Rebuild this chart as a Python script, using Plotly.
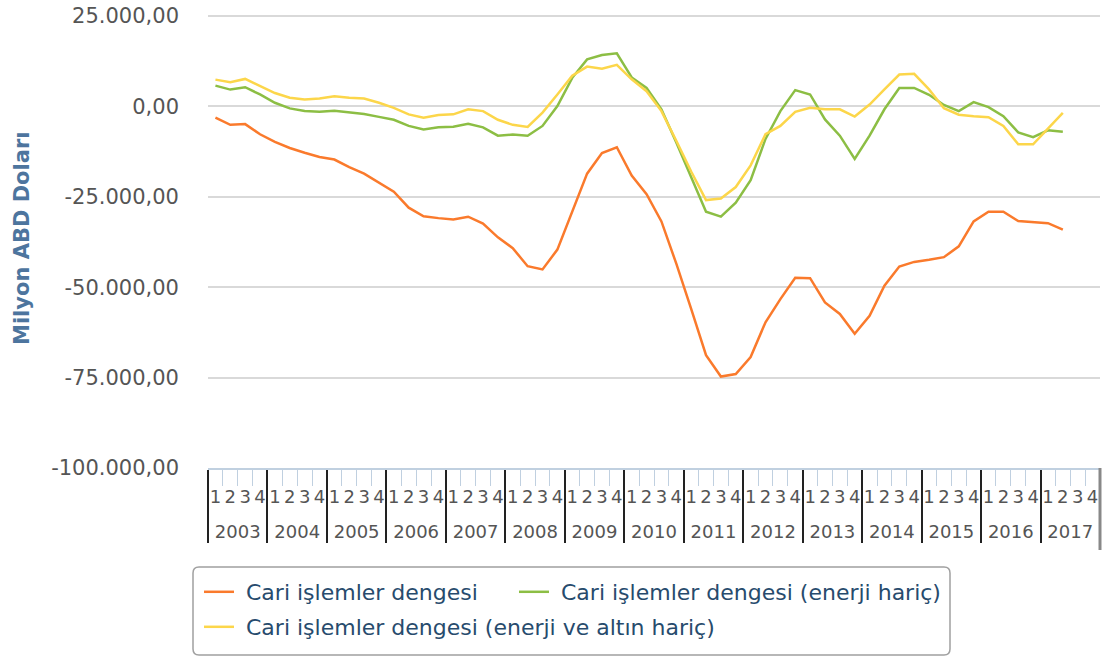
import plotly.graph_objects as go

years = ["2003", "2004", "2005", "2006", "2007", "2008", "2009", "2010",
         "2011", "2012", "2013", "2014", "2015", "2016", "2017"]
quarters = ["1", "2", "3", "4"]

y_tick_vals = [-100000, -75000, -50000, -25000, 0, 25000]
y_tick_text = ["-100.000,00", "-75.000,00", "-50.000,00", "-25.000,00",
               "0,00", "25.000,00"]

cari = [-3100, -5100, -4900, -7700, -9800, -11500, -12800, -14000,
        -14700, -16800, -18600, -21200, -23600, -28000, -30400, -30900,
        -31300, -30500, -32400, -36200, -39200, -44200, -45100, -39600,
        -29100, -18600, -12900, -11300, -19100, -24300, -31800, -43500,
        -56000, -68800, -74700, -74000, -69300, -59700, -53300, -47400,
        -47500, -54200, -57400, -62900, -57900, -49600, -44300, -43000,
        -42400, -41700, -38700, -31800, -29100, -29100, -31700, -32100,
        -32300, -34100]

enerji_haric = [5750, 4650, 5300, 3300, 1000, -550, -1300, -1500,
                -1200, -1700, -2100, -2900, -3700, -5400, -6400, -5800,
                -5600, -4800, -5800, -8100, -7800, -8100, -5400, 100,
                7900, 13000, 14200, 14700, 8000, 5100, -800, -10000,
                -19500, -29100, -30500, -26600, -20400, -9000, -1300, 4500,
                3300, -3600, -8100, -14500, -8100, -800, 5100, 5100,
                3200, 400, -1300, 1200, -200, -2700, -7200, -8500,
                -6600, -7000]

enerji_altin_haric = [7400, 6700, 7600, 5700, 3700, 2400, 1900, 2200,
                      2800, 2400, 2200, 1000, -400, -2200, -3100, -2400,
                      -2200, -800, -1300, -3700, -5100, -5700, -1700, 3300,
                      8500, 11000, 10400, 11500, 7500, 4200, -1300, -9500,
                      -18000, -25900, -25500, -22300, -16300, -7700, -5400, -1500,
                      -400, -800, -800, -2800, 500, 4700, 8800, 9000,
                      4700, -500, -2300, -2700, -3000, -5400, -10500, -10500,
                      -6000, -1800]

names = ["Cari işlemler dengesi",
         "Cari işlemler dengesi (enerji hariç)",
         "Cari işlemler dengesi (enerji ve altın hariç)"]
colors = ["#FA7A2C", "#8CBE44", "#FCD64A"]
legend_ids = ["legend", "legend2", "legend3"]
series = [cari, enerji_haric, enerji_altin_haric]

# quarter labels get an empty second line so the year row sits lower
x_year = [y for y in years for q in quarters]
x_q = [q + "<br>\u00a0" for y in years for q in quarters]
n = len(x_year)

FONT = "DejaVu Sans"
W, H = 1105, 657
PLOT_TOP, PLOT_BOTTOM, PLOT_LEFT, PLOT_RIGHT = 14, 468, 208, 1100
L, T = PLOT_LEFT, PLOT_TOP
R = W - PLOT_RIGHT
B = H - PLOT_BOTTOM
PW, PH = W - L - R, H - T - B
# top gridline (25.000) sits at y=16, just inside the plot top
Y_MIN = -100000
Y_MAX = Y_MIN + 125000 * PH / (PLOT_BOTTOM - 16)


def px(x_page):
    return (x_page - L) / PW


def py(y_page):
    return (H - B - y_page) / PH


fig = go.Figure()
for name, col, vals, lg in zip(names, colors, series, legend_ids):
    yv = list(vals) + [None] * (n - len(vals))
    fig.add_trace(go.Scatter(
        x=[x_year, x_q], y=yv, mode="lines", name="\u00a0" + name,
        line=dict(color=col, width=2.5), connectgaps=False, legend=lg,
    ))

legend_font = dict(size=22, color="#274b6d", family=FONT)


def leg(xp, yp):
    return dict(orientation="h", x=px(xp), xanchor="left", y=py(yp),
                yanchor="middle", borderwidth=0, bgcolor="rgba(0,0,0,0)",
                font=legend_font)


fig.update_layout(
    width=W, height=H,
    margin=dict(l=L, r=R, t=T, b=B, autoexpand=False),
    plot_bgcolor="white", paper_bgcolor="white",
    font=dict(family=FONT, color="#555555"),
    showlegend=True,
    legend=leg(199, 592),
    legend2=leg(514, 592),
    legend3=leg(199, 627),
)

fig.update_yaxes(
    range=[Y_MIN, Y_MAX], tickmode="array",
    tickvals=y_tick_vals, ticktext=y_tick_text,
    showgrid=True, gridcolor="#d9d9d9", gridwidth=1.5,
    zeroline=False, showline=False, ticks="",
    ticklabelstandoff=28, automargin=False, ticklabeloverflow="allow",
    tickfont=dict(size=21, color="#555555", family=FONT),
)

fig.update_xaxes(
    type="multicategory", automargin=False,
    tickmode="linear", tick0=0, dtick=1, tickangle=0,
    showline=True, linecolor="#C0D0E0", linewidth=1.5,
    ticks="outside", tickson="boundaries", ticklen=16, tickcolor="#C0D0E0",
    tickwidth=1, ticklabelstandoff=12,
    showdividers=True, dividercolor="#222222", dividerwidth=2,
    tickfont=dict(size=18, color="#555555", family=FONT),
    showgrid=False, range=[-0.5, n - 0.5],
)

fig.add_annotation(
    text="<b>Milyon ABD Doları</b>", textangle=-90,
    xref="paper", yref="paper", x=px(22), y=py(239),
    xanchor="center", yanchor="middle", showarrow=False,
    font=dict(size=21, color="#4d759e", family=FONT),
)

# right end divider of the category axis
fig.add_shape(type="line", xref="paper", yref="paper",
              x0=1, x1=1, y0=0, y1=py(550),
              line=dict(color="#888888", width=3))

# legend frame with rounded corners
x0, x1, y0, y1, r = 193, 950, 567, 655, 6
path = (f"M {px(x0 + r)},{py(y0)} L {px(x1 - r)},{py(y0)} "
        f"Q {px(x1)},{py(y0)} {px(x1)},{py(y0 + r)} "
        f"L {px(x1)},{py(y1 - r)} Q {px(x1)},{py(y1)} {px(x1 - r)},{py(y1)} "
        f"L {px(x0 + r)},{py(y1)} Q {px(x0)},{py(y1)} {px(x0)},{py(y1 - r)} "
        f"L {px(x0)},{py(y0 + r)} Q {px(x0)},{py(y0)} {px(x0 + r)},{py(y0)} Z")
fig.add_shape(type="path", xref="paper", yref="paper", path=path,
              line=dict(color="#a0a0a0", width=1.5), layer="below")

fig.write_html(
    "out.html",
    config={"displayModeBar": False},
    post_script="document.body.style.margin='0';"
                "document.body.style.overflow='hidden';",
)
